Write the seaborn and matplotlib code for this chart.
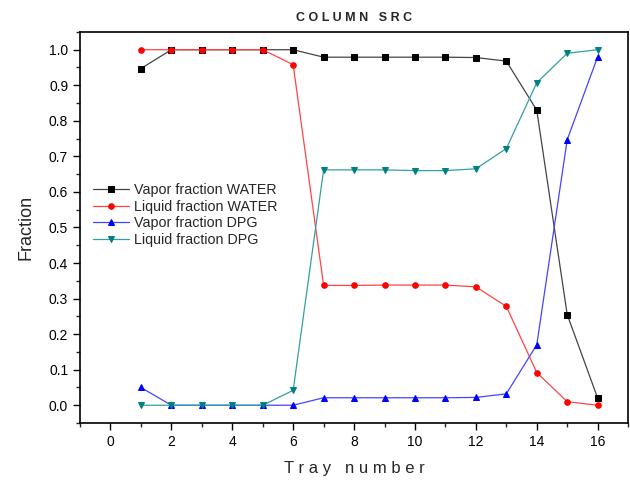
import matplotlib
matplotlib.use("Agg")
import matplotlib.pyplot as plt
import seaborn as sns
import pandas as pd
from matplotlib.ticker import MultipleLocator

trays = list(range(1, 17))
vapor_water = [0.947, 1.0, 1.0, 1.0, 1.0, 1.0, 0.979, 0.979, 0.979, 0.979, 0.979, 0.978, 0.968, 0.83, 0.255, 0.02]
liquid_water = [1.0, 1.0, 1.0, 1.0, 1.0, 0.958, 0.337, 0.337, 0.338, 0.338, 0.338, 0.333, 0.278, 0.092, 0.01, 0.0]
vapor_dpg = [0.05, 0.0, 0.0, 0.0, 0.0, 0.0, 0.021, 0.021, 0.021, 0.021, 0.021, 0.022, 0.032, 0.17, 0.747, 0.98]
liquid_dpg = [0.0, 0.0, 0.0, 0.0, 0.0, 0.042, 0.662, 0.662, 0.662, 0.66, 0.66, 0.665, 0.722, 0.907, 0.99, 1.0]
labels = ["Vapor fraction WATER", "Liquid fraction WATER", "Vapor fraction DPG", "Liquid fraction DPG"]

sns.set_style("white")
plt.rcParams['font.family'] = ['Liberation Sans', 'DejaVu Sans']

fig = plt.figure(figsize=(6.3, 4.84), dpi=100)
ax = fig.add_axes([0.127, 0.126, 0.870, 0.808])

series = [vapor_water, liquid_water, vapor_dpg, liquid_dpg]
colors = ["#000000", "#ff0000", "#0000ff", "#008080"]
line_colors = ["#444444", "#ff4444", "#4444ff", "#33a0a0"]
markers = ["s", "o", "^", "v"]
for vals, lab, c, lc, m in zip(series, labels, colors, line_colors, markers):
    df = pd.DataFrame({"Tray": trays, "Fraction": vals})
    sns.lineplot(data=df, x="Tray", y="Fraction", ax=ax, color=lc, linewidth=0.9,
                 marker=m, markersize=4, markerfacecolor=c, markeredgecolor=c, label=lab)

ax.set_xlim(-1, 17)
ax.set_ylim(-0.05, 1.05)
ax.xaxis.set_major_locator(MultipleLocator(2))
ax.xaxis.set_minor_locator(MultipleLocator(1))
ax.yaxis.set_major_locator(MultipleLocator(0.1))
ax.yaxis.set_minor_locator(MultipleLocator(0.05))
ax.yaxis.set_major_formatter(matplotlib.ticker.FormatStrFormatter("%.1f"))
ax.tick_params(which="major", direction="out", length=5, width=1, labelsize=10, colors="black", bottom=True, left=True)
ax.tick_params(which="minor", direction="out", length=3, width=1, bottom=True, left=True)
for s in ["left", "bottom", "top", "right"]:
    ax.spines[s].set_color("black")
    ax.spines[s].set_linewidth(1.2)

ax.set_xlabel("T r a y   n u m b e r", fontsize=12, labelpad=9)
ax.set_ylabel("Fraction", fontsize=13, labelpad=10)
ax.set_title("C O L U M N   S R C", fontsize=9, fontweight="bold", pad=8)

leg = ax.legend(loc="upper left", bbox_to_anchor=(0.005, 0.64), frameon=False, fontsize=10.3,
                handlelength=2.5, labelspacing=0.2, borderaxespad=0.3, handletextpad=0.4)

fig.savefig("out.png", dpi=100)
